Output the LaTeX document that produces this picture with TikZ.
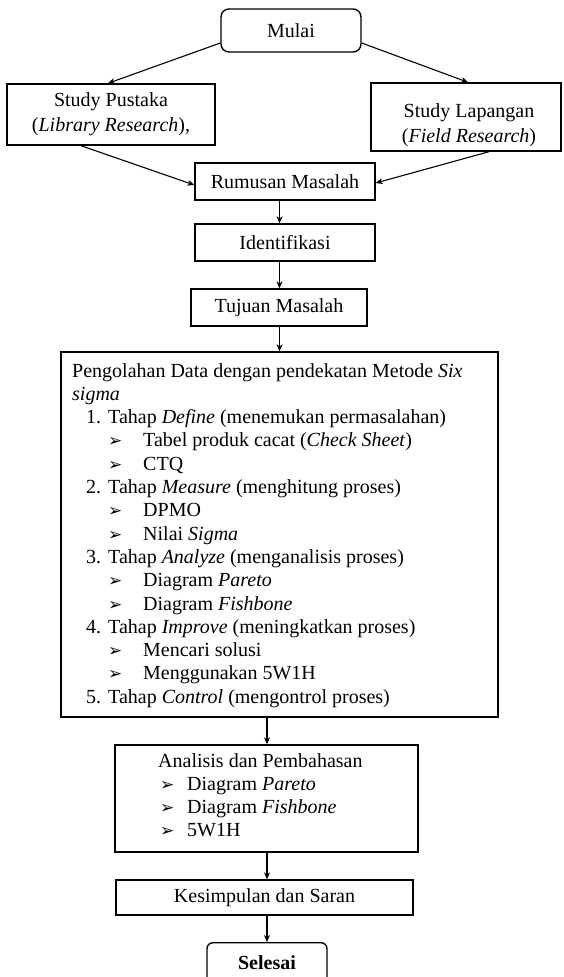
\documentclass[tikz,border=0pt]{standalone}
\usepackage{fontspec}
\setmainfont{Liberation Serif}
\newfontfamily\djv{DejaVu Sans}
\usetikzlibrary{arrows.meta}
\newcommand{\fs}{\fontsize{20}{23.3}\selectfont}
\newcommand{\mybul}{{\djv\fontsize{17}{17}\selectfont ➢}}
\newcommand{\bitem}[1]{\hspace*{36pt}\makebox[35pt][l]{\mybul}#1}
\newcommand{\nitem}[2]{\hspace*{14pt}\makebox[22pt][l]{#1}#2}
\newcommand{\aitem}[1]{\hspace*{2pt}\makebox[27pt][l]{\mybul}#1}
\begin{document}
\begin{tikzpicture}[x=1pt,y=-1pt,
  box/.style={draw, line width=1.4pt, inner sep=0pt, font=\fs},
  txt/.style={inner sep=0pt, font=\fs},
  conn/.style={line width=1.1pt, -{Stealth[length=7pt,width=6pt]}}]
\useasboundingbox (0,0) rectangle (563,977);
\clip (0,0) rectangle (563,977);
\fill[white] (0,0) rectangle (563,977);
% boxes
\node[box, rounded corners=8pt, minimum width=140pt, minimum height=43pt] (mulai) at (291,30.5) {Mulai};
\node[box, minimum width=208pt, minimum height=61pt, align=center, font=\fontsize{20}{25}\selectfont] (sp) at (111,114.5) {Study Pustaka\\(\textit{Library Research}),};
\node[box, minimum width=190pt, minimum height=68pt] (sl) at (466,117) {};
\node[txt, align=center, font=\fontsize{20}{25}\selectfont] (sltext) at (469,125) {Study Lapangan\\(\textit{Field Research})};
\node[box, minimum width=180pt, minimum height=37pt] (rum) at (285,181.5) {Rumusan Masalah};
\node[box, minimum width=180pt, minimum height=37pt] (idn) at (285,242.5) {Identifikasi};
\node[box, minimum width=176pt, minimum height=37pt] (tuj) at (279,307.5) {Tujuan Masalah};
\node[box, minimum width=437pt, minimum height=365pt] (big) at (279.5,534.5) {};
\node[txt, anchor=north west, align=left] (bigtext) at (72,363) {%
Pengolahan Data dengan pendekatan Metode \textit{Six}\\
\textit{sigma}\\
\nitem{1.}{Tahap \textit{Define} (menemukan permasalahan)}\\
\bitem{Tabel produk cacat (\textit{Check Sheet})}\\
\bitem{CTQ}\\
\nitem{2.}{Tahap \textit{Measure} (menghitung proses)}\\
\bitem{DPMO}\\
\bitem{Nilai \textit{Sigma}}\\
\nitem{3.}{Tahap \textit{Analyze} (menganalisis proses)}\\
\bitem{Diagram \textit{Pareto}}\\
\bitem{Diagram \textit{Fishbone}}\\
\nitem{4.}{Tahap \textit{Improve} (meningkatkan proses)}\\
\bitem{Mencari solusi}\\
\bitem{Menggunakan 5W1H}\\
\nitem{5.}{Tahap \textit{Control} (mengontrol proses)}};
\node[box, minimum width=303pt, minimum height=107pt] (ana) at (266.5,798.5) {};
\node[txt, anchor=north west, align=left] (anatext) at (158,753) {%
Analisis dan Pembahasan\\
\aitem{Diagram \textit{Pareto}}\\
\aitem{Diagram \textit{Fishbone}}\\
\aitem{5W1H}};
\node[box, minimum width=297pt, minimum height=35pt] (kes) at (264.5,897.5) {Kesimpulan dan Saran};
\node[box, rounded corners=6pt, minimum width=120pt, minimum height=70pt, anchor=north] (sel) at (267,942) {};
\node[txt, font=\fs\bfseries] (seltext) at (267,963) {Selesai};
% connectors
\draw[conn] ([yshift=-12.5pt]mulai.west) -- ([xshift=-3pt]sp.north);
\draw[conn] ([yshift=-12.5pt]mulai.east) -- ([xshift=2pt]sl.north);
\draw[conn] ([xshift=-30pt]sp.south) -- ([yshift=-3.5pt]rum.west);
\draw[conn] ([xshift=23pt]sl.south) -- ([yshift=-1.5pt]rum.east);
\draw[conn] (rum.south -| big.north) -- (idn.north -| big.north);
\draw[conn] (idn.south -| big.north) -- (tuj.north -| big.north);
\draw[conn] (tuj.south -| big.north) -- (big.north);
\draw[conn] (big.south -| sel.north) -- (ana.north -| sel.north);
\draw[conn] (ana.south -| sel.north) -- (kes.north -| sel.north);
\draw[conn] (kes.south -| sel.north) -- (sel.north);
\end{tikzpicture}
\end{document}
